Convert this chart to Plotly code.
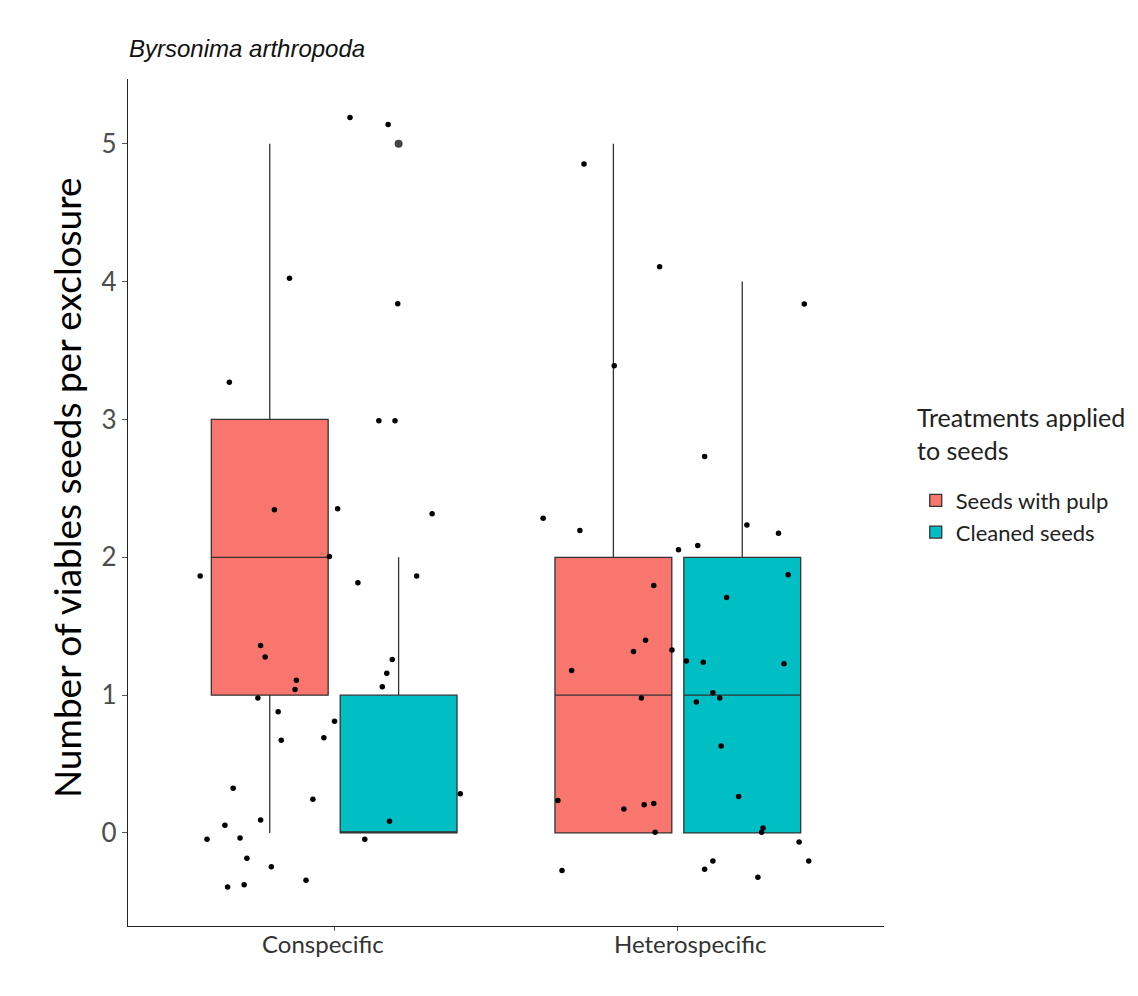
import plotly.graph_objects as go

# ---- data ----
categories = ["Conspecific", "Heterospecific"]
cat_pos = [1, 2]
treatments = ["Seeds with pulp", "Cleaned seeds"]
colors = ["#F8766D", "#00BFC4"]
dodge = [-0.1875, 0.1875]

# box statistics per treatment: [Conspecific, Heterospecific]
pulp_low = [0, 0]
pulp_q1 = [1, 0]
pulp_med = [2, 1]
pulp_q3 = [3, 2]
pulp_high = [5, 5]

clean_low = [0, 0]
clean_q1 = [0, 0]
clean_med = [0, 1]
clean_q3 = [1, 2]
clean_high = [2, 4]

# outlier (Cleaned seeds, Conspecific)
clean_consp_outliers = [5]

# jittered observations (x in axis units, y jittered values)
consp_jit_x = [1.046, 1.157, 0.870, 0.695, 1.130, 1.177, 1.185, 0.826, 1.010, 1.285,
               0.986, 0.610, 1.069, 1.240, 0.786, 0.799, 0.890, 0.886, 0.778, 1.169,
               1.153, 1.140, 0.837, 1.001, 0.970, 0.846, 0.706, 0.938, 1.367, 0.786,
               1.161, 0.682, 0.630, 0.726, 1.089, 0.746, 0.817, 0.918, 0.690, 0.738]
consp_jit_y = [5.19, 5.14, 4.025, 3.27, 2.99, 2.99, 3.84, 2.344, 2.353, 2.315,
               2.005, 1.865, 1.816, 1.865, 1.36, 1.277, 1.108, 1.04, 0.98, 1.258,
               1.159, 1.06, 0.88, 0.81, 0.69, 0.673, 0.324, 0.245, 0.285, 0.094,
               0.085, 0.056, -0.046, -0.036, -0.046, -0.184, -0.245, -0.343, -0.392, -0.375]
hetero_jit_x = [1.727, 1.947, 2.368, 1.815, 2.078, 1.608, 1.715, 2.002, 2.058, 2.201,
                2.293, 2.321, 1.930, 2.142, 1.906, 1.871, 1.983, 1.691, 2.025, 2.074,
                2.309, 1.894, 2.102, 2.122, 2.054, 2.126, 2.177, 1.651, 1.843, 1.902,
                1.930, 1.934, 2.248, 2.244, 2.353, 1.663, 2.102, 2.078, 2.381, 2.233]
hetero_jit_y = [4.853, 4.107, 3.837, 3.389, 2.731, 2.284, 2.194, 2.054, 2.085, 2.235,
                2.174, 1.874, 1.795, 1.708, 1.398, 1.317, 1.328, 1.178, 1.248, 1.238,
                1.228, 0.98, 1.018, 0.98, 0.951, 0.631, 0.264, 0.235, 0.174, 0.205,
                0.214, 0.005, 0.036, 0.005, -0.065, -0.273, -0.203, -0.263, -0.203, -0.322]

# ---- figure ----
fig = go.Figure()

stats = [
    (pulp_low, pulp_q1, pulp_med, pulp_q3, pulp_high),
    (clean_low, clean_q1, clean_med, clean_q3, clean_high),
]
for i, (lo, q1, md, q3, hi) in enumerate(stats):
    fig.add_trace(go.Box(
        x=[p + dodge[i] for p in cat_pos],
        lowerfence=lo, q1=q1, median=md, q3=q3, upperfence=hi,
        width=0.34,
        name=treatments[i],
        fillcolor=colors[i],
        line=dict(color="#333333", width=1.3),
        whiskerwidth=0,
        boxpoints=False,
        showlegend=True,
    ))

fig.add_trace(go.Scatter(
    x=[cat_pos[0] + dodge[1]] * len(clean_consp_outliers),
    y=clean_consp_outliers,
    mode="markers",
    marker=dict(color="#444444", size=8),
    showlegend=False, hoverinfo="skip",
))

fig.add_trace(go.Scatter(
    x=consp_jit_x + hetero_jit_x,
    y=consp_jit_y + hetero_jit_y,
    mode="markers",
    marker=dict(color="black", size=5.5),
    showlegend=False,
))

font_main = "Lato, 'Open Sans', sans-serif"

annotations = [
    dict(text="<i>Byrsonima arthropoda</i>", xref="paper", yref="paper",
         x=0, y=1, xanchor="left", yanchor="bottom", yshift=15, xshift=-1, showarrow=False,
         font=dict(size=24, color="#111111", family="'Liberation Sans', Arial, sans-serif")),
    dict(text="Number of viables seeds per exclosure", xref="paper", yref="paper",
         x=0, y=0.517, xanchor="center", yanchor="middle", xshift=-62, textangle=-90,
         showarrow=False, font=dict(size=37, color="black", family=font_main)),
    dict(text="Treatments applied<br>to seeds", xref="paper", yref="paper",
         x=1.041, y=0.621, xanchor="left", yanchor="top", align="left", showarrow=False,
         font=dict(size=25, color="#222222", family=font_main)),
]
label_shift = [-11, 13]
for pos, lab, sh in zip(cat_pos, categories, label_shift):
    annotations.append(dict(
        text=lab, xref="x", yref="paper", x=pos, y=0, xanchor="center", yanchor="top",
        xshift=sh, yshift=-1, showarrow=False,
        font=dict(size=24, color="#333333", family=font_main)))

fig.update_layout(
    width=1130, height=988,
    margin=dict(l=120, r=254, t=71, b=70, autoexpand=False),
    plot_bgcolor="white", paper_bgcolor="white",
    boxmode="overlay",
    font=dict(family=font_main, color="#4d4d4d"),
    xaxis=dict(
        range=[0.4, 2.6], tickvals=cat_pos, ticktext=["", ""],
        showline=True, linecolor="#222222", linewidth=1.2,
        ticks="outside", ticklen=4, tickcolor="#555555",
        showgrid=False, zeroline=False,
    ),
    yaxis=dict(
        range=[-0.675, 5.47], tickvals=[0, 1, 2, 3, 4, 5],
        showline=True, linecolor="#222222", linewidth=1.2,
        ticks="outside", ticklen=5, tickcolor="#555555",
        tickfont=dict(size=26, color="#4d4d4d", family=font_main),
        showgrid=False, zeroline=False,
    ),
    legend=dict(
        x=1.042, y=0.527, xanchor="left", yanchor="top",
        font=dict(size=22, color="#222222", family=font_main),
        tracegroupgap=0, itemwidth=30,
    ),
    annotations=annotations,
)

fig.write_html("out.html")
